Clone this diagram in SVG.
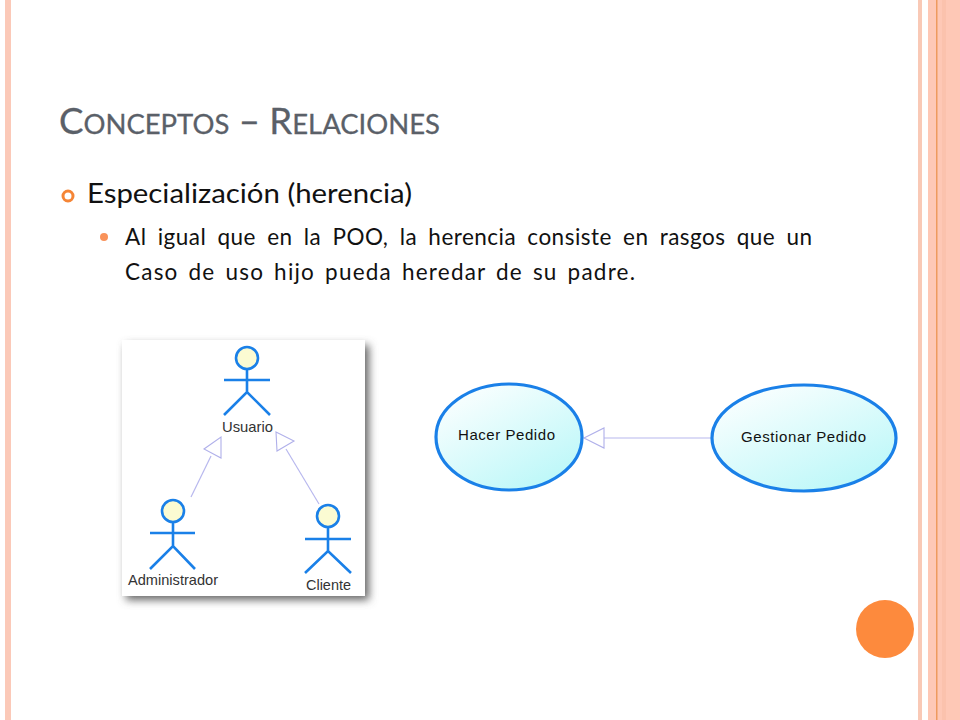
<svg xmlns="http://www.w3.org/2000/svg" width="960" height="720" viewBox="0 0 960 720">
<style>
.ln{stroke:#1a80e8;stroke-width:2.6;fill:none}
.hd{stroke:#1a80e8;stroke-width:2.6;fill:#fbfbd2}
.conn{stroke:#b8b8ee;stroke-width:1.2;fill:none}
.arr{stroke:#b0b0ea;stroke-width:1.1;fill:#fff}
.lbl{font-family:"Liberation Sans",Arial,sans-serif;fill:#333}
.uc{font-family:"Liberation Sans",Arial,sans-serif;font-size:15px;fill:#111}
.ell{stroke:#1a80e8;stroke-width:3.2;fill:url(#ug)}
.body{font-family:Lato,"Open Sans",sans-serif;fill:#111}
</style>
<defs>
<linearGradient id="ug" x1="0.1" y1="0" x2="0.85" y2="1"><stop offset="0" stop-color="#ffffff"/><stop offset="1" stop-color="#b8f7f8"/></linearGradient>
<filter id="sh" x="-10%" y="-10%" width="125%" height="125%"><feGaussianBlur stdDeviation="4.5"/></filter>
</defs>
<rect width="960" height="720" fill="#fff"/>
<g id="stripes">
<rect x="5" y="0" width="6" height="720" fill="#fbc9b8"/>
<rect x="918" y="0" width="4" height="720" fill="#f9c9b6"/>
<rect x="928" y="0" width="32" height="720" fill="#fec8b6"/>
<rect x="936" y="0" width="1.5" height="720" fill="#ee9a5e"/>
<rect x="942" y="0" width="4" height="720" fill="#fbc2ad"/>
</g>
<g id="title"><text x="59" y="134" font-family="Lato,'Open Sans',sans-serif" font-size="36" fill="#5a6068" stroke="#5a6068" stroke-width=".3" textLength="381" lengthAdjust="spacingAndGlyphs">C<tspan font-size="27">ONCEPTOS</tspan> – R<tspan font-size="27">ELACIONES</tspan></text></g>
<g id="bullets">
<circle cx="68" cy="196" r="5" fill="none" stroke="#f58536" stroke-width="3"/>
<text class="body" x="87" y="203" font-size="26" textLength="325" lengthAdjust="spacingAndGlyphs">Especialización (herencia)</text>
<circle cx="104" cy="237" r="4" fill="#f9925a"/>
<text class="body" x="125" y="245" font-size="22.5" word-spacing="5" textLength="687" lengthAdjust="spacing">Al igual que en la POO, la herencia consiste en rasgos que un</text>
<text class="body" x="125" y="280" font-size="22.5" word-spacing="3" textLength="510" lengthAdjust="spacing">Caso de uso hijo pueda heredar de su padre.</text>
</g>
<g id="panel">
<rect x="126" y="345" width="243" height="255" fill="#666" filter="url(#sh)"/>
<rect x="122" y="340" width="243" height="256" fill="#fff"/>
</g>
<g id="connectors">
<line class="conn" x1="191" y1="497" x2="211" y2="456"/>
<polygon class="arr" points="221,437 221,458 204,449"/>
<line class="conn" x1="319" y1="504" x2="286" y2="449"/>
<polygon class="arr" points="276,432 294,441 277,451"/>
<line class="conn" x1="711" y1="438" x2="604" y2="438"/>
<polygon class="arr" points="584,438 604,428 604,448"/>
</g>
<g id="usuario">
<circle class="hd" cx="247" cy="358" r="11"/>
<path class="ln" d="M247 369V392M224 380H270M224 415L247 392L270 415"/>
<text class="lbl" x="222" y="432" font-size="14.5" textLength="51" lengthAdjust="spacingAndGlyphs">Usuario</text>
</g>
<g id="administrador">
<circle class="hd" cx="173" cy="511" r="11"/>
<path class="ln" d="M173 522V546M150 533H195M150 569L173 546L195 569"/>
<text class="lbl" x="128" y="585" font-size="14.5" textLength="90" lengthAdjust="spacingAndGlyphs">Administrador</text>
</g>
<g id="cliente">
<circle class="hd" cx="328" cy="516" r="11"/>
<path class="ln" d="M328 527V551M305 539H351M305 573L328 551L351 573"/>
<text class="lbl" x="306" y="590" font-size="14.5" textLength="45" lengthAdjust="spacingAndGlyphs">Cliente</text>
</g>
<g id="hacer-pedido">
<ellipse class="ell" cx="509" cy="437" rx="73" ry="53"/>
<text class="uc" x="458" y="440" textLength="97" lengthAdjust="spacing">Hacer Pedido</text>
</g>
<g id="gestionar-pedido">
<ellipse class="ell" cx="804" cy="438" rx="92" ry="53"/>
<text class="uc" x="741" y="442" textLength="125" lengthAdjust="spacing">Gestionar Pedido</text>
</g>
<g id="dot"><circle cx="885" cy="629" r="29" fill="#fd8a3d"/></g>
</svg>
